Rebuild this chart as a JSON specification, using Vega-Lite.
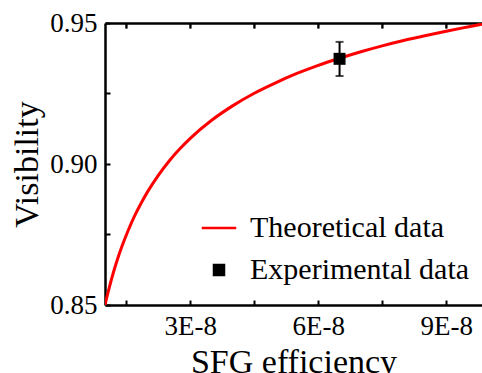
{
  "$schema": "https://vega.github.io/schema/vega-lite/v6.json",
  "width": 377,
  "height": 282,
  "autosize": {"type": "none"},
  "padding": {"left": 105, "top": 23, "right": 0, "bottom": 68},
  "background": "white",
  "config": {
    "view": {"stroke": null},
    "font": "Liberation Serif",
    "axis": {
      "grid": false,
      "domainColor": "black",
      "domainWidth": 2.5,
      "tickColor": "black",
      "tickWidth": 2,
      "tickSize": -5,
      "labelFont": "Liberation Serif",
      "titleFont": "Liberation Serif",
      "labelColor": "black",
      "titleColor": "black",
      "labelFontSize": 27,
      "titleFontSize": 34,
      "titleFontWeight": "normal",
      "labelOverlap": false
    },
    "legend": {"labelFont": "Liberation Serif", "labelLimit": 400}
  },
  "resolve": {"axis": {"x": "independent"}},
  "datasets": {
    "curve": [
      {"eff": 1.0e-8, "vis": 0.8500, "series": "Theoretical data"},
      {"eff": 1.05e-8, "vis": 0.8532, "series": "Theoretical data"},
      {"eff": 1.1e-8, "vis": 0.8562, "series": "Theoretical data"},
      {"eff": 1.2e-8, "vis": 0.8617, "series": "Theoretical data"},
      {"eff": 1.3e-8, "vis": 0.8666, "series": "Theoretical data"},
      {"eff": 1.4e-8, "vis": 0.8709, "series": "Theoretical data"},
      {"eff": 1.55e-8, "vis": 0.8767, "series": "Theoretical data"},
      {"eff": 1.7e-8, "vis": 0.8818, "series": "Theoretical data"},
      {"eff": 1.85e-8, "vis": 0.8862, "series": "Theoretical data"},
      {"eff": 2.0e-8, "vis": 0.8902, "series": "Theoretical data"},
      {"eff": 2.25e-8, "vis": 0.8960, "series": "Theoretical data"},
      {"eff": 2.5e-8, "vis": 0.9010, "series": "Theoretical data"},
      {"eff": 2.75e-8, "vis": 0.9053, "series": "Theoretical data"},
      {"eff": 3.0e-8, "vis": 0.9091, "series": "Theoretical data"},
      {"eff": 3.5e-8, "vis": 0.9155, "series": "Theoretical data"},
      {"eff": 4.0e-8, "vis": 0.9207, "series": "Theoretical data"},
      {"eff": 4.5e-8, "vis": 0.9251, "series": "Theoretical data"},
      {"eff": 5.0e-8, "vis": 0.9288, "series": "Theoretical data"},
      {"eff": 5.5e-8, "vis": 0.9321, "series": "Theoretical data"},
      {"eff": 6.0e-8, "vis": 0.9350, "series": "Theoretical data"},
      {"eff": 6.5e-8, "vis": 0.9375, "series": "Theoretical data"},
      {"eff": 7.0e-8, "vis": 0.9398, "series": "Theoretical data"},
      {"eff": 7.5e-8, "vis": 0.9419, "series": "Theoretical data"},
      {"eff": 8.0e-8, "vis": 0.9438, "series": "Theoretical data"},
      {"eff": 8.5e-8, "vis": 0.9455, "series": "Theoretical data"},
      {"eff": 9.0e-8, "vis": 0.9471, "series": "Theoretical data"},
      {"eff": 9.5e-8, "vis": 0.9486, "series": "Theoretical data"},
      {"eff": 9.84e-8, "vis": 0.9496, "series": "Theoretical data"}
    ],
    "exp": [
      {"eff": 6.5e-8, "vis": 0.9373, "lo": 0.9312, "hi": 0.9433, "series": "Experimental data"}
    ],
    "topticks": [
      {"t": 1.5e-8}, {"t": 3e-8}, {"t": 4.5e-8}, {"t": 6e-8}, {"t": 7.5e-8}, {"t": 9e-8}
    ]
  },
  "layer": [
    {
      "data": {"name": "curve"},
      "mark": {"type": "line", "strokeWidth": 3, "interpolate": "monotone", "clip": true},
      "encoding": {
        "x": {
          "field": "eff", "type": "quantitative",
          "scale": {"domain": [1e-8, 9.84e-8], "zero": false, "nice": false},
          "axis": {
            "orient": "bottom",
            "title": "SFG efficiency",
            "values": [1.5e-8, 3e-8, 4.5e-8, 6e-8, 7.5e-8, 9e-8],
            "labelExpr": "round(datum.value*1e9) % 30 == 0 ? round(datum.value*1e8) + 'E-8' : ''",
            "labelFont": "Liberation Serif",
            "labelPadding": 13,
            "titlePadding": 6
          }
        },
        "y": {
          "field": "vis", "type": "quantitative",
          "scale": {"domain": [0.85, 0.95], "zero": false, "nice": false},
          "axis": {
            "title": "Visibility",
            "values": [0.85, 0.875, 0.9, 0.925, 0.95],
            "labelExpr": "round(datum.value*1000) % 50 == 0 ? format(datum.value, '.2f') : ''",
            "labelFont": "Liberation Serif",
            "labelPadding": 13,
            "titlePadding": 5
          }
        },
        "color": {
          "field": "series", "type": "nominal",
          "scale": {"domain": ["Theoretical data", "Experimental data"], "range": ["#ff0000", "#000000"]},
          "legend": {
            "title": null,
            "orient": "none",
            "legendX": 99,
            "legendY": 190,
            "padding": 0,
            "labelFont": "Liberation Serif",
            "labelFontSize": 30,
            "labelColor": "black",
            "labelLimit": 400,
            "labelOffset": 16,
            "rowPadding": 12,
            "symbolSize": 100,
            "encode": {
              "symbols": {
                "update": {
                  "stroke": {"scale": "color", "field": "value"},
                  "fill": {"scale": "color", "field": "value"},
                  "strokeWidth": {"value": 2.5},
                  "size": {"value": 100},
                  "shape": {"scale": "shape", "field": "value"}
                }
              }
            }
          }
        }
      }
    },
    {
      "data": {"name": "exp"},
      "mark": {"type": "rule", "strokeWidth": 2, "color": "black"},
      "encoding": {
        "x": {"field": "eff", "type": "quantitative", "axis": null},
        "y": {"field": "lo", "type": "quantitative"},
        "y2": {"field": "hi"}
      }
    },
    {
      "data": {"name": "exp"},
      "mark": {"type": "tick", "orient": "horizontal", "size": 8, "thickness": 2, "color": "black"},
      "encoding": {
        "x": {"field": "eff", "type": "quantitative", "axis": null},
        "y": {"field": "lo", "type": "quantitative"}
      }
    },
    {
      "data": {"name": "exp"},
      "mark": {"type": "tick", "orient": "horizontal", "size": 8, "thickness": 2, "color": "black"},
      "encoding": {
        "x": {"field": "eff", "type": "quantitative", "axis": null},
        "y": {"field": "hi", "type": "quantitative"}
      }
    },
    {
      "data": {"name": "topticks"},
      "mark": {"type": "tick", "orient": "vertical", "size": 5, "thickness": 2, "color": "black", "yOffset": 3},
      "encoding": {
        "x": {"field": "t", "type": "quantitative", "axis": null},
        "y": {"datum": 0.95, "type": "quantitative"}
      }
    },
    {
      "data": {"name": "exp"},
      "mark": {"type": "point", "filled": true, "size": 144, "opacity": 1},
      "encoding": {
        "x": {
          "field": "eff", "type": "quantitative",
          "axis": {
            "orient": "top",
            "title": null,
            "labelExpr": "''",
            "domain": true,
            "ticks": true,
            "tickSize": -5,
            "tickColor": "black",
            "tickWidth": 2,
            "values": [1.5e-8, 3e-8, 4.5e-8, 6e-8, 7.5e-8, 9e-8]
          }
        },
        "y": {"field": "vis", "type": "quantitative"},
        "color": {"field": "series", "type": "nominal"},
        "shape": {
          "field": "series", "type": "nominal",
          "scale": {"domain": ["Theoretical data", "Experimental data"], "range": ["M-3.45,0H3.45", "square"]},
          "legend": null
        }
      }
    }
  ]
}
